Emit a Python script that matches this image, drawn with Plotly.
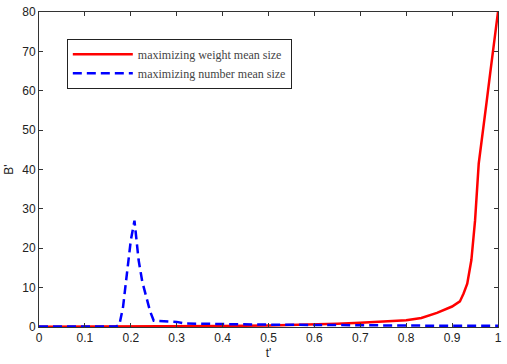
import plotly.graph_objects as go

# Data
t_weight = [0, 0.1, 0.2, 0.3, 0.4, 0.5, 0.55, 0.6, 0.65, 0.7, 0.75, 0.8, 0.833, 0.867,
            0.9, 0.917, 0.925, 0.933, 0.942, 0.95, 0.958, 0.967, 0.975, 0.983, 0.992, 1.0]
b_weight = [0.05, 0.08, 0.12, 0.18, 0.25, 0.4, 0.5, 0.65, 0.85, 1.05, 1.3, 1.7, 2.3, 3.6,
            5.2, 6.5, 8.5, 11, 17, 27, 41.5, 49, 57, 64.5, 72, 80]

t_number = [0, 0.1, 0.167, 0.175, 0.183, 0.192, 0.2, 0.208, 0.217, 0.225, 0.233, 0.242,
            0.25, 0.267, 0.3, 0.317, 0.333, 0.4, 0.5, 0.6, 0.7, 0.8, 0.9, 1.0]
b_number = [0.1, 0.1, 0.1, 0.5, 5, 14, 22, 27, 17, 11.5, 8, 4, 1.6, 1.5, 1.3, 0.9, 0.85,
            0.75, 0.6, 0.5, 0.4, 0.35, 0.3, 0.3]

series_names = ["maximizing weight mean size", "maximizing number mean size"]

x_ticks = [0, 0.1, 0.2, 0.3, 0.4, 0.5, 0.6, 0.7, 0.8, 0.9, 1]
x_tick_labels = ["0", "0.1", "0.2", "0.3", "0.4", "0.5", "0.6", "0.7", "0.8", "0.9", "1"]
y_ticks = [0, 10, 20, 30, 40, 50, 60, 70, 80]

fig = go.Figure()
fig.add_trace(go.Scatter(x=t_weight, y=b_weight, mode="lines", name=series_names[0],
                         line=dict(color="#ff0000", width=2.5)))
fig.add_trace(go.Scatter(x=t_number, y=b_number, mode="lines", name=series_names[1],
                         line=dict(color="#0000ff", width=2.5, dash="9px,5px")))

axis_common = dict(showline=True, linecolor="#333333", linewidth=1, mirror="ticks",
                   ticks="inside", ticklen=4, tickcolor="#333333", showgrid=False,
                   zeroline=False, ticklabeloverflow="allow",
                   tickfont=dict(family="Liberation Sans, Arial", size=12, color="#222222"))

fig.update_xaxes(range=[0, 1], tickvals=x_ticks, ticktext=x_tick_labels,
                 title=dict(text="t'", font=dict(family="Liberation Sans, Arial", size=12, color="#222222"),
                            standoff=4), **axis_common)
fig.update_yaxes(range=[0, 80], tickvals=y_ticks,
                 title=dict(text="B'", font=dict(family="Liberation Sans, Arial", size=12, color="#222222"),
                            standoff=6), **axis_common)

fig.update_layout(
    width=507, height=364,
    margin=dict(l=39, r=6, t=5, b=37),
    paper_bgcolor="white", plot_bgcolor="white",
    legend=dict(x=0.0606, y=0.915, xanchor="left", yanchor="top",
                bordercolor="#222222", borderwidth=1, bgcolor="white",
                font=dict(family="Liberation Serif, Times New Roman", size=12, color="#444444"),
                itemwidth=60, tracegroupgap=0, entrywidth=240, entrywidthmode="pixels"),
    showlegend=True,
)

fig.write_html("out.html")
